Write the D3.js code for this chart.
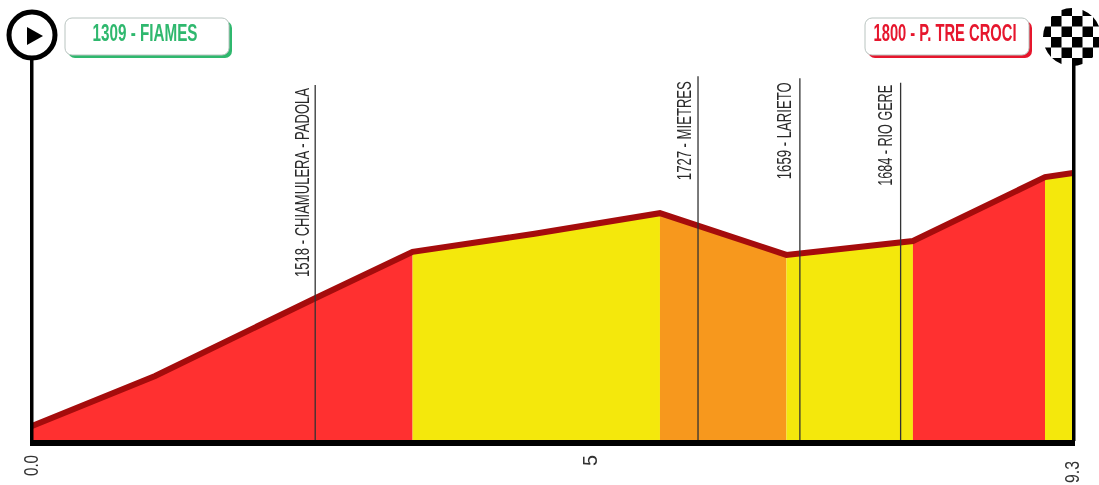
<!DOCTYPE html>
<html><head><meta charset="utf-8">
<script src="https://cdn.jsdelivr.net/npm/d3@7"></script>
<style>html,body{margin:0;padding:0;background:#fff;overflow:hidden}svg{display:block;filter:blur(.6px)}text{font-family:"Liberation Sans Narrow","Liberation Sans",sans-serif;font-weight:700}</style>
</head><body><script>
const km = [0, 1.10, 2.53, 3.40, 4.49, 5.61, 6.74, 7.87, 9.05, 9.3];
const elevation = [1309, 1406, 1557, 1647, 1682, 1722, 1641, 1668, 1792, 1800];
const segmentEnds = [3.40, 5.61, 6.74, 7.87, 9.05, 9.3];
const segmentColors = ["#ff3030", "#f4e80c", "#f7981d", "#f4e80c", "#ff3030", "#f4e80c"];
const passKm = [2.53, 5.95, 6.86, 7.76];
const passLabels = ["1518 - CHIAMULERA - PADOLA", "1727 - MIETRES", "1659 - LARIETO", "1684 - RIO GERE"];
const passTops = [1969, 1986, 1982, 1973];
const tickValues = [0, 5, 9.3];
const tickLabels = ["0.0", "5", "9.3"];
const startLabel = "1309 - FIAMES";
const endLabel = "1800 - P. TRE CROCI";

const W = 1099, H = 485;
const x = d3.scaleLinear().domain([0, 9.3]).range([32, 1073]);
const y = d3.scaleLinear().domain([1309, 1800]).range([425, 172]);
const base = 441;
const svg = d3.select("body").append("svg").attr("width", W).attr("height", H);
const pts = km.map((k, i) => ({k, e: elevation[i]}));
const elevAt = d3.scaleLinear().domain(km).range(elevation);

// coloured segments
let from = 0;
segmentEnds.forEach((end, i) => {
  const inner = km.filter(k => k > from && k < end);
  const seq = [from, ...inner, end];
  const area = d3.area().x(k => x(k)).y0(base).y1(k => y(elevAt(k)));
  svg.append("path").attr("d", area(seq)).attr("fill", segmentColors[i]);
  from = end;
});
// profile line
svg.append("path").datum(pts)
  .attr("d", d3.line().x(d => x(d.k)).y(d => y(d.e) + 1))
  .attr("fill", "none").attr("stroke", "#a50c0c").attr("stroke-width", 6);

// pass markers
const labelOffset = [-6, -7, -9, -9];
const labelDrop = [3, 5, 4, 2];
const labelLen = [189, 99, 97, 101];
passKm.forEach((k, i) => {
  svg.append("line").attr("x1", x(k)).attr("x2", x(k))
    .attr("y1", y(passTops[i])).attr("y2", base)
    .attr("stroke", "#333").attr("stroke-width", 1.3);
  svg.append("text").text(passLabels[i])
    .attr("transform", `translate(${x(k) + labelOffset[i]},${y(passTops[i]) + labelDrop[i]}) rotate(-90)`)
    .attr("text-anchor", "end").attr("font-size", 20).attr("fill", "#2a2a2a").style("font-weight", 400)
    .attr("lengthAdjust", "spacingAndGlyphs")
    .attr("textLength", labelLen[i]);
});

// axes
const tickOffset = [14, 14, 20];
const tickLen = [21, 11, 22];
const axis = d3.axisBottom(x).tickValues(tickValues).tickFormat((d, i) => tickLabels[i]).tickSize(0);
const gx = svg.append("g").attr("transform", `translate(0,${base})`).call(axis);
gx.select(".domain").remove();
gx.selectAll("text")
  .attr("transform", (d, i) => `translate(0,${tickOffset[i]}) rotate(-90)`)
  .attr("x", 0).attr("y", 0).attr("dy", "0.25em").attr("text-anchor", "end")
  .attr("font-size", 20).style("font-weight", 400).attr("fill", "#333")
  .attr("lengthAdjust", "spacingAndGlyphs")
  .attr("textLength", (d, i) => tickLen[i]);
svg.append("rect").attr("x", x(0) - 2).attr("y", base - 1).attr("width", x(9.3) - x(0) + 4).attr("height", 6).attr("fill", "#000");
svg.append("rect").attr("x", x(0) - 2).attr("y", 60).attr("width", 3.5).attr("height", base - 60).attr("fill", "#000");
svg.append("rect").attr("x", x(9.3) - 1).attr("y", 60).attr("width", 3.5).attr("height", base - 60).attr("fill", "#000");

// labelled boxes
function box(bx, by, w, h, col, txt, len) {
  svg.append("rect").attr("x", bx + 3).attr("y", by + 3).attr("width", w).attr("height", h).attr("rx", 7).attr("fill", col);
  svg.append("rect").attr("x", bx).attr("y", by).attr("width", w).attr("height", h).attr("rx", 7)
    .attr("fill", "#fff").attr("stroke", "#b9c4c0").attr("stroke-width", 1);
  svg.append("text").text(txt).attr("x", bx + w / 2 - 2).attr("y", by + 23).attr("text-anchor", "middle")
    .attr("font-size", 23).attr("fill", col).attr("lengthAdjust", "spacingAndGlyphs").attr("textLength", len);
}
box(65, 18, 164, 37, "#2fb86e", startLabel, 105);
box(865, 18, 164, 37, "#e6162d", endLabel, 143);

// start icon
svg.append("circle").attr("cx", 32).attr("cy", 35).attr("r", 23).attr("fill", "#fff").attr("stroke", "#000").attr("stroke-width", 5);
svg.append("path").attr("d", d3.line()([[27, 27], [27, 45], [43, 36]])).attr("fill", "#000");

// finish flag
const fcx = 1072, fcy = 37, fr = 29, cell = 10.5;
svg.append("clipPath").attr("id", "flag").append("circle").attr("cx", fcx).attr("cy", fcy).attr("r", fr);
const flag = svg.append("g").attr("clip-path", "url(#flag)");
d3.range(-3, 3).forEach(r => d3.range(-3, 3).forEach(c => {
  if ((r + c + 6) % 2 === 0) flag.append("rect").attr("x", fcx + c * cell).attr("y", fcy + r * cell).attr("width", cell).attr("height", cell).attr("fill", "#000");
}));
</script></body></html>
